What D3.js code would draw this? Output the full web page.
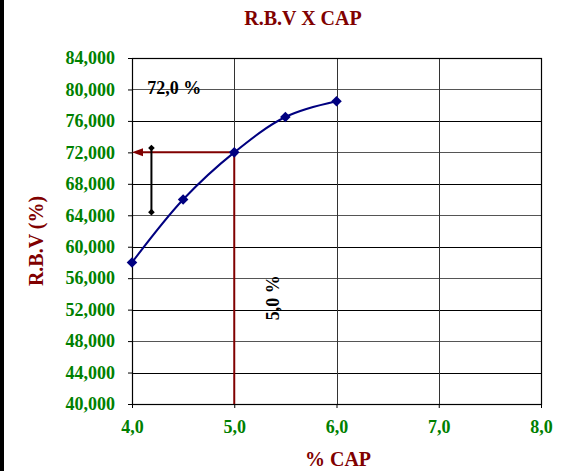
<!DOCTYPE html>
<html>
<head>
<meta charset="utf-8">
<script src="https://cdn.jsdelivr.net/npm/d3@7"></script>
<style>
  body { margin: 0; background: #fff; }
  svg { display: block; font-family: "Liberation Serif", "Times New Roman", serif; font-weight: bold; }
</style>
</head>
<body>
<svg id="chart" width="565" height="471"></svg>
<script>
// data
const cap = [4.0, 4.5, 5.0, 5.5, 6.0];
const rbv = [58, 66, 72, 76.5, 78.5];
const xTicks = [4, 5, 6, 7, 8];
const yTicks = [40, 44, 48, 52, 56, 60, 64, 68, 72, 76, 80, 84];
const target = { cap: 5.0, rbv: 72 };
const spread = { cap: 4.19, lo: 64.4, hi: 72.55 };

const margin = { top: 58, left: 132, right: 24, bottom: 67 };
const width = 565 - margin.left - margin.right;
const height = 471 - margin.top - margin.bottom;
const maroon = "#800000";
const green = "#008000";

const svg = d3.select("#chart");

// black strip on the left edge
svg.append("rect").attr("x", 0).attr("y", 0).attr("width", 4).attr("height", 471).attr("fill", "#000");

const xScale = d3.scaleLinear().domain([4, 8]).range([0, width]);
const yScale = d3.scaleLinear().domain([40, 84]).range([height, 0]);

const g = svg.append("g").attr("transform", `translate(${margin.left},${margin.top})`);

// grid
g.selectAll(".hgrid")
  .data(yTicks)
  .enter()
  .append("line")
  .attr("class", "hgrid")
  .attr("x1", 0)
  .attr("x2", width)
  .attr("y1", (d) => Math.round(yScale(d)) + 0.5)
  .attr("y2", (d) => Math.round(yScale(d)) + 0.5)
  .attr("stroke", (d, i) => (i % 2 ? "#000" : "#555"))
  .attr("stroke-width", 1);

g.selectAll(".vgrid")
  .data(xTicks)
  .enter()
  .append("line")
  .attr("class", "vgrid")
  .attr("x1", (d) => Math.round(xScale(d)) + 0.5)
  .attr("x2", (d) => Math.round(xScale(d)) + 0.5)
  .attr("y1", 0)
  .attr("y2", height)
  .attr("stroke", "#333")
  .attr("stroke-width", 1);

// axes
const yAxis = g.append("g")
  .call(d3.axisLeft(yScale).tickValues(yTicks).tickSize(4).tickPadding(13)
    .tickFormat((d) => d + ",000"));
const xAxis = g.append("g")
  .attr("transform", `translate(0,${height})`)
  .call(d3.axisBottom(xScale).tickValues(xTicks).tickSize(4).tickPadding(12)
    .tickFormat((d) => d.toFixed(1).replace(".", ",")));

[yAxis, xAxis].forEach((ax) => {
  ax.select(".domain").remove();
  ax.selectAll("line").attr("stroke", "#000");
  ax.selectAll("text")
    .attr("fill", green)
    .attr("font-size", 18)
    .attr("font-family", "Liberation Serif, serif")
    .attr("font-weight", "bold");
});

// plot border
g.append("rect")
  .attr("x", 0.5).attr("y", 0.5)
  .attr("width", width).attr("height", height)
  .attr("fill", "none").attr("stroke", "#000").attr("stroke-width", 1.2);

// red guide lines
g.append("line")
  .attr("x1", xScale(target.cap)).attr("x2", xScale(target.cap))
  .attr("y1", yScale(target.rbv)).attr("y2", height)
  .attr("stroke", maroon).attr("stroke-width", 2);
g.append("line")
  .attr("x1", xScale(target.cap)).attr("x2", xScale(4) + 10)
  .attr("y1", yScale(target.rbv)).attr("y2", yScale(target.rbv))
  .attr("stroke", maroon).attr("stroke-width", 2);
g.append("path")
  .attr("d", `M${xScale(4)},${yScale(target.rbv)} l11,-4 l0,8 Z`)
  .attr("fill", maroon);

// black spread bar
g.append("line")
  .attr("x1", xScale(spread.cap)).attr("x2", xScale(spread.cap))
  .attr("y1", yScale(spread.hi)).attr("y2", yScale(spread.lo))
  .attr("stroke", "#000").attr("stroke-width", 2);
g.selectAll(".spreadEnd")
  .data([spread.hi, spread.lo])
  .enter()
  .append("path")
  .attr("class", "spreadEnd")
  .attr("transform", (d) => `translate(${xScale(spread.cap)},${yScale(d)}) rotate(45)`)
  .attr("d", d3.symbol().type(d3.symbolSquare).size(22))
  .attr("fill", "#000");

// curve
const points = cap.map((c, i) => ({ cap: c, rbv: rbv[i] }));
g.append("path")
  .datum(points)
  .attr("fill", "none")
  .attr("stroke", "#000080")
  .attr("stroke-width", 2)
  .attr("d", d3.line().x((d) => xScale(d.cap)).y((d) => yScale(d.rbv)).curve(d3.curveCatmullRom.alpha(0.5)));

g.selectAll(".pt")
  .data(points)
  .enter()
  .append("path")
  .attr("class", "pt")
  .attr("transform", (d) => `translate(${xScale(d.cap)},${yScale(d.rbv)}) rotate(45)`)
  .attr("d", d3.symbol().type(d3.symbolSquare).size(56))
  .attr("fill", "#000080");

// annotations
g.append("text")
  .attr("x", xScale(4.15)).attr("y", yScale(79.4))
  .attr("font-size", 18).attr("fill", "#000")
  .text("72,0 %");
g.append("text")
  .attr("transform", `translate(${xScale(5.44)},${yScale(53.5)}) rotate(-90)`)
  .attr("text-anchor", "middle")
  .attr("font-size", 18).attr("fill", "#000")
  .text("5,0 %");

// titles
svg.append("text")
  .attr("x", 303).attr("y", 25)
  .attr("text-anchor", "middle")
  .attr("font-size", 20).attr("fill", maroon)
  .text("R.B.V X CAP");
svg.append("text")
  .attr("x", 338).attr("y", 466)
  .attr("text-anchor", "middle")
  .attr("font-size", 20).attr("fill", maroon)
  .text("% CAP");
svg.append("text")
  .attr("transform", "translate(43,241) rotate(-90)")
  .attr("text-anchor", "middle")
  .attr("font-size", 20).attr("fill", maroon)
  .text("R.B.V (%)");
</script>
</body>
</html>
